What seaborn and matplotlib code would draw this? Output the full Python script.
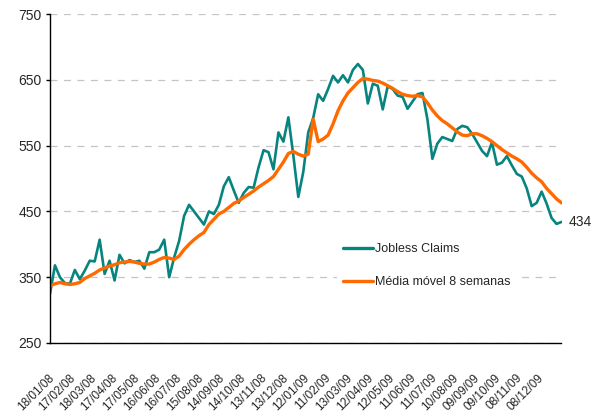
import numpy as np
import pandas as pd
import matplotlib
matplotlib.use("Agg")
import matplotlib.pyplot as plt
import matplotlib.transforms as mtransforms
import seaborn as sns

# ---------------- data ----------------
start_date = "2008-01-18"          # first weekly observation
n_weeks = 104

jobless_claims = [325, 368, 350, 341, 340, 361, 347, 360, 375, 374,
                  407, 355, 375, 345, 384, 371, 376, 373, 375, 363,
                  388, 388, 392, 407, 350, 380, 405, 443, 460, 450,
                  440, 430, 450, 446, 460, 488, 502, 482, 463, 478,
                  487, 486, 517, 543, 540, 514, 570, 556, 593, 535,
                  472, 510, 570, 592, 628, 618, 636, 656, 646, 657,
                  646, 665, 674, 665, 614, 644, 641, 605, 640, 636,
                  626, 624, 606, 617, 628, 630, 590, 530, 553, 563,
                  560, 557, 575, 580, 578, 568, 555, 542, 534, 555,
                  521, 524, 534, 520, 507, 503, 485, 458, 463, 480,
                  462, 440, 431, 434]

media_movel_8 = [337, 340, 342, 340, 339, 340, 342, 348, 352, 356,
                 361, 364, 367, 369, 372, 373, 374, 373, 371, 370,
                 370, 373, 377, 380, 379, 377, 382, 392, 400, 407,
                 413, 418, 430, 438, 446, 450, 456, 462, 466, 471,
                 476, 481, 487, 492, 497, 503, 514, 525, 538, 541,
                 537, 534, 537, 590, 556, 560, 566, 583, 603, 618,
                 630, 638, 646, 652, 651, 649, 648, 645, 641, 637,
                 632, 628, 626, 625, 626, 624, 615, 604, 595, 588,
                 583, 577, 571, 566, 565, 568, 568, 565, 561, 556,
                 550, 544, 539, 534, 530, 525, 517, 508, 501, 495,
                 485, 477, 469, 463]

tick_labels = ["18/01/08", "17/02/08", "18/03/08", "17/04/08", "17/05/08",
               "16/06/08", "16/07/08", "15/08/08", "14/09/08", "14/10/08",
               "13/11/08", "13/12/08", "12/01/09", "11/02/09", "13/03/09",
               "12/04/09", "12/05/09", "11/06/09", "11/07/09", "10/08/09",
               "09/09/09", "09/10/09", "08/11/09", "08/12/09"]

y_ticks = [250, 350, 450, 550, 650, 750]

series_names = ["Jobless Claims", "Média móvel 8 semanas"]
series_colors = ["#08847f", "#ff6a00"]

# ---------------- style ----------------
sns.set_style("white")
plt.rcParams["font.family"] = ["Liberation Sans", "DejaVu Sans"]
plt.rcParams["lines.scale_dashes"] = False
fs_y, fs_x, fs_leg, fs_ann = 10, 8.5, 9, 10

dates = pd.date_range(start_date, periods=n_weeks, freq="7D")
tick_dates = pd.date_range(start_date, periods=len(tick_labels), freq="30D")

df = pd.DataFrame({"date": dates,
                   series_names[0]: jobless_claims,
                   series_names[1]: media_movel_8})

fig = plt.figure(figsize=(5.93, 4.20), dpi=100)
ax = fig.add_axes([50 / 593, 1 - 343 / 420, (561.5 - 50) / 593, (343 - 14) / 420])

sns.lineplot(data=df, x="date", y=series_names[0], ax=ax, color=series_colors[0],
             linewidth=1.9, label=series_names[0])
sns.lineplot(data=df, x="date", y=series_names[1], ax=ax, color=series_colors[1],
             linewidth=2.4, label=series_names[1])

ax.set_xlim(dates[0], dates[-1])
ax.set_ylim(y_ticks[0], y_ticks[-1])
ax.set_yticks(y_ticks)
ax.set_xticks(tick_dates)
ax.set_xticklabels(tick_labels)
ax.set_xlabel("")
ax.set_ylabel("")

ax.set_axisbelow(True)
ax.yaxis.grid(True, color="#c4c4c4", linewidth=0.9, linestyle=(0, (5, 4.7)))
ax.xaxis.grid(False)

for s in ["top", "right"]:
    ax.spines[s].set_visible(False)
for s in ["left", "bottom"]:
    ax.spines[s].set_color("black")
    ax.spines[s].set_linewidth(1.0)

ax.tick_params(axis="y", length=3, width=1, color="black", labelsize=fs_y, pad=3,
               left=True)
ax.tick_params(axis="x", length=0, labelsize=fs_x, pad=24, bottom=True)

offset = mtransforms.ScaledTranslation(2 / 100, 0, fig.dpi_scale_trans)
for lab in ax.get_xticklabels():
    lab.set_rotation(45)
    lab.set_ha("right")
    lab.set_va("center")
    lab.set_rotation_mode("anchor")
    lab.set_transform(lab.get_transform() + offset)

# end value label
ax.annotate(f"{jobless_claims[-1]}", xy=(dates[-1], jobless_claims[-1]),
            xytext=(5, 0), textcoords="offset points", va="center", ha="left",
            fontsize=fs_ann, annotation_clip=False)

leg = ax.legend(loc="upper left", bbox_to_anchor=(337 / 593, 1 - 237 / 420),
                bbox_transform=fig.transFigure, frameon=True, fontsize=fs_leg,
                handlelength=2.4, handletextpad=0.15, labelspacing=1.65,
                borderpad=0.5, borderaxespad=0, fancybox=False, framealpha=1.0)
leg.get_frame().set_facecolor("white")
leg.get_frame().set_edgecolor("none")
for h in leg.get_lines():
    h.set_linewidth(2.4)

fig.savefig("out.png", dpi=100)
